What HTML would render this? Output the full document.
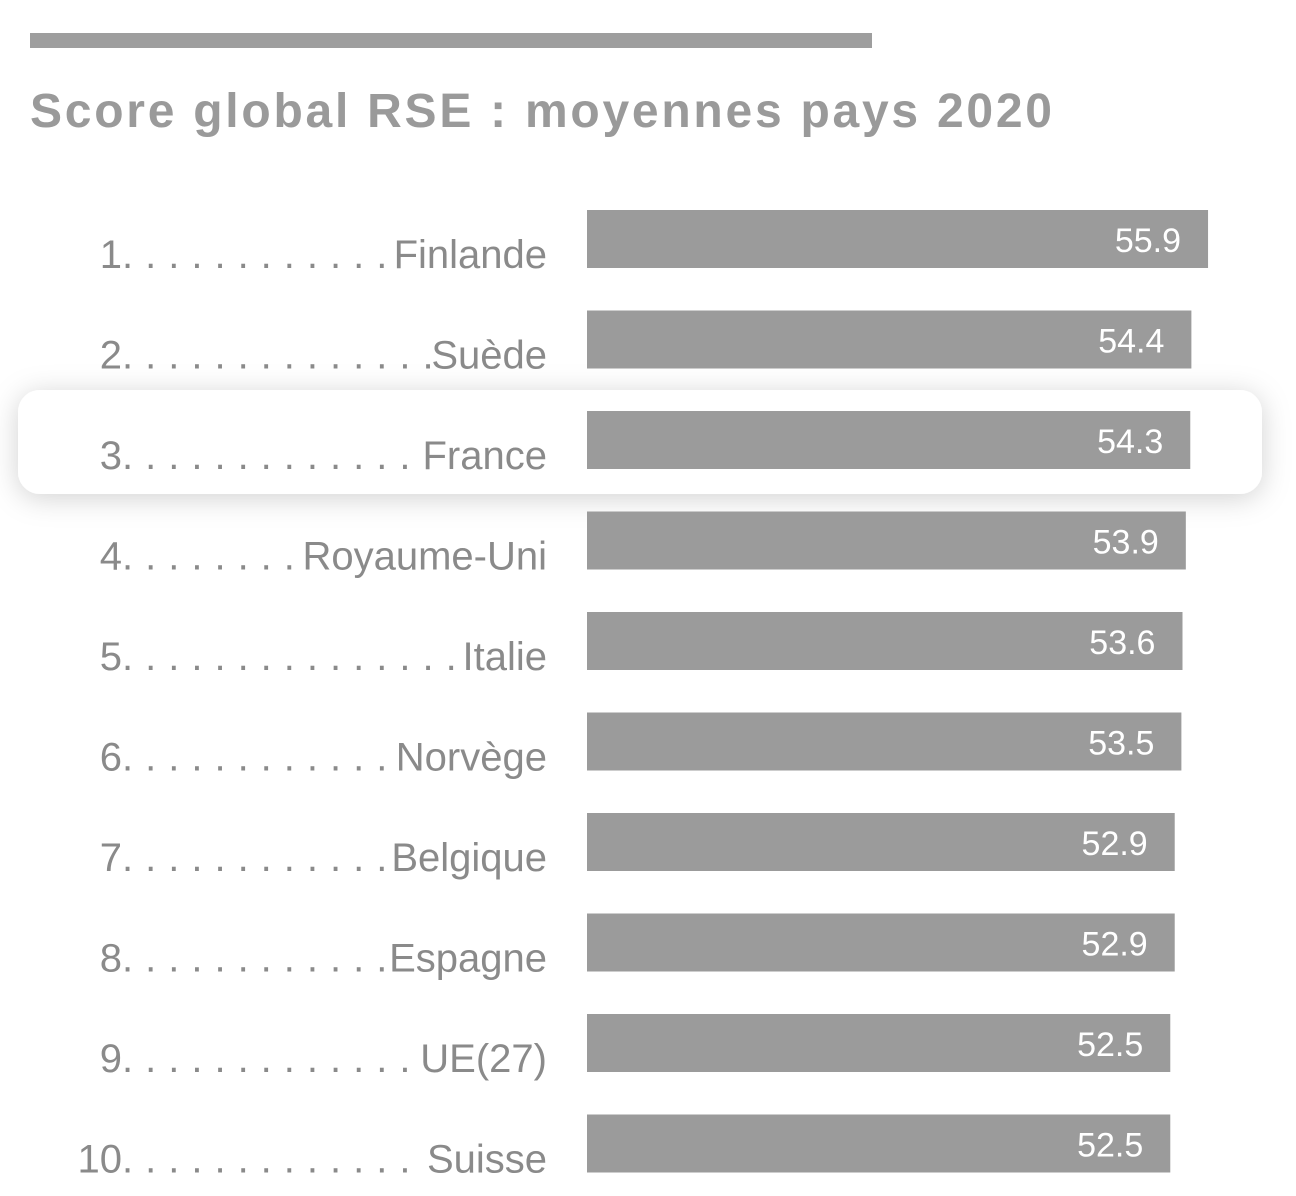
<!DOCTYPE html>
<html><head><meta charset="utf-8"><style>
html,body{margin:0;padding:0;background:#fff;width:1296px;height:1196px;overflow:hidden;font-family:"Liberation Sans",sans-serif}
</style></head><body>
<svg id="svg" width="1296" height="1196" xmlns="http://www.w3.org/2000/svg">
<defs><filter id="sh" x="-10%" y="-50%" width="120%" height="200%"><feDropShadow dx="0" dy="4" stdDeviation="14" flood-color="#000" flood-opacity="0.18"/></filter></defs>
<rect x="30" y="33" width="842" height="15" fill="#9e9e9e"/>
<text x="30" y="127" font-size="48" font-weight="bold" fill="#9a9a9a" textLength="1022" lengthAdjust="spacing">Score global RSE : moyennes pays 2020</text>
<rect x="18" y="390" width="1244" height="104" rx="22" fill="#fff" filter="url(#sh)"/>
<g id="bars"></g>
</svg>
<script>
const ranks=["1","2","3","4","5","6","7","8","9","10"];
const countries=["Finlande","Suède","France","Royaume-Uni","Italie","Norvège","Belgique","Espagne","UE(27)","Suisse"];
const values=[55.9,54.4,54.3,53.9,53.6,53.5,52.9,52.9,52.5,52.5];
const X0=587, K=11.11, Y0=210, STEP=100.5, H=58;
const x=v=>v*K;
const y=i=>Y0+i*STEP;
const g=document.getElementById('bars');
const NS="http://www.w3.org/2000/svg";
values.forEach((v,i)=>{
  const r=document.createElementNS(NS,'rect');
  
  
  r.setAttribute('x',X0);r.setAttribute('y',y(i));r.setAttribute('width',x(v));r.setAttribute('height',H);r.setAttribute('fill','#9b9b9b');
  g.appendChild(r);
  const t=document.createElementNS(NS,'text');
  
  
  t.setAttribute('x',X0+x(v)-27);t.setAttribute('y',y(i)+42);t.setAttribute('text-anchor','end');
  t.setAttribute('font-size','34');t.setAttribute('fill','#fff');t.textContent=v.toFixed(1);
  g.appendChild(t);
  const n=document.createElementNS(NS,'text');
  
  
  n.setAttribute('x',122);n.setAttribute('y',y(i)+58);n.setAttribute('text-anchor','end');
  n.setAttribute('font-size','40');n.setAttribute('fill','#8a8a8a');n.textContent=ranks[i];
  g.appendChild(n);
  const c=document.createElementNS(NS,'text');
  
  
  c.setAttribute('x',547);c.setAttribute('y',y(i)+58);c.setAttribute('text-anchor','end');
  c.setAttribute('font-size','40');c.setAttribute('fill','#8a8a8a');
  c.textContent=countries[i];
  g.appendChild(c);
  const w=c.getComputedTextLength();
  const end=547-w-8;
  const cnt=Math.max(1,Math.floor((end-122)/23)+1);
  const d=document.createElementNS(NS,'text');
  
  
  d.setAttribute('x',122);d.setAttribute('y',y(i)+58);
  d.setAttribute('font-size','40');d.setAttribute('fill','#8a8a8a');
  d.setAttribute('letter-spacing','12');
  d.textContent='.'.repeat(cnt);
  g.appendChild(d);
});
</script>
</body></html>
